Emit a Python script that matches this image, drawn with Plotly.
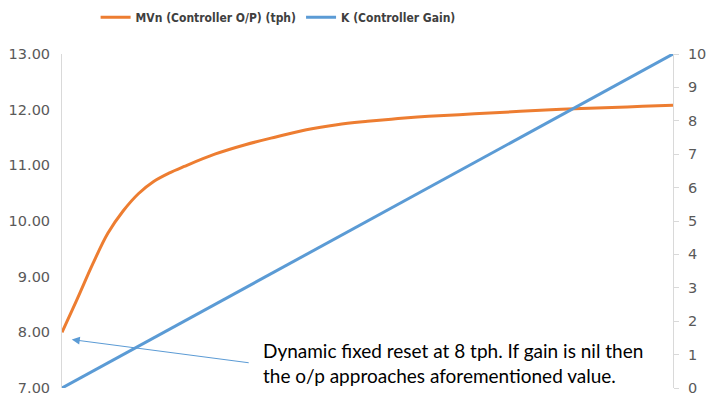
import plotly.graph_objects as go

# Controller gain sweep and resulting controller output
gain_k = [0, 0.25, 0.5, 0.75, 1.0, 1.25, 1.5, 1.75, 2.0, 2.5, 3.0, 3.5, 4.0, 4.5, 5.0,
          5.5, 6.0, 6.5, 7.0, 7.5, 8.0, 8.5, 9.0, 9.5, 10.0]
mvn_tph = [8.00, 8.60, 9.22, 9.78, 10.18, 10.49, 10.71, 10.86, 10.98, 11.20, 11.37, 11.51,
           11.64, 11.73, 11.79, 11.84, 11.88, 11.91, 11.94, 11.97, 12.00, 12.02, 12.04,
           12.06, 12.08]

left_ticks = [7, 8, 9, 10, 11, 12, 13]
right_ticks = list(range(0, 11))

ORANGE = "#ED7D31"
BLUE = "#5B9BD5"
AXIS_GREY = "#D9D9D9"
LABEL_GREY = "#595959"

fig = go.Figure()
fig.add_trace(go.Scatter(
    x=gain_k, y=mvn_tph, mode="lines", name="MVn (Controller O/P) (tph)",
    line=dict(color=ORANGE, width=3, shape="spline", smoothing=1.0),
))
fig.add_trace(go.Scatter(
    x=gain_k, y=gain_k, mode="lines", name="K (Controller Gain)",
    line=dict(color=BLUE, width=3), yaxis="y2",
))

fig.add_annotation(
    x=0.16, y=7.87, ax=3.08, ay=7.45, xref="x", yref="y", axref="x", ayref="y",
    text="", showarrow=True, arrowhead=2, arrowsize=1.6, arrowwidth=1,
    arrowcolor=BLUE,
)
fig.add_annotation(
    x=3.26, y=7.45, xref="x", yref="y", xanchor="left", yanchor="middle",
    text="Dynamic fixed reset at 8 tph. If gain is nil then<br>the o/p approaches aforementioned value.",
    showarrow=False, align="left",
    font=dict(family="Lato, Open Sans, sans-serif", size=19, color="#000000"),
)

fig.update_layout(
    width=707, height=401,
    margin=dict(l=62, r=34, t=54, b=13, autoexpand=False),
    paper_bgcolor="white", plot_bgcolor="white",
    showlegend=True,
    legend=dict(
        orientation="h", x=0.055, xanchor="left", y=1.11, yanchor="middle",
        font=dict(family="DejaVu Sans Condensed, sans-serif",
                  size=12, color="#404040", weight="bold"),
        itemwidth=30, tracegroupgap=0,
    ),
    xaxis=dict(range=[0, 10], showgrid=False, zeroline=False, showline=False,
               showticklabels=False, ticks="", automargin=False),
    yaxis=dict(range=[7, 13], tickvals=left_ticks, tickformat=".2f",
               showgrid=False, zeroline=False, showline=True, linecolor=AXIS_GREY,
               linewidth=1, ticks="", ticklabelstandoff=8, automargin=False,
               tickfont=dict(family="DejaVu Sans, sans-serif", size=14.5, color=LABEL_GREY)),
    yaxis2=dict(range=[0, 10], tickvals=right_ticks, overlaying="y", side="right",
                showgrid=False, zeroline=False, showline=True, linecolor=AXIS_GREY,
                linewidth=1, ticks="outside", ticklen=5, tickcolor=AXIS_GREY,
                ticklabelstandoff=6, automargin=False,
                tickfont=dict(family="DejaVu Sans, sans-serif", size=14.5, color=LABEL_GREY)),
)

fig.write_html("out.html")
